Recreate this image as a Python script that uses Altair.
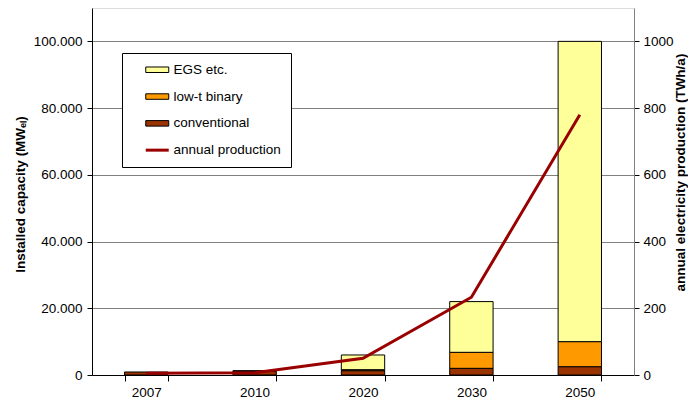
import altair as alt
import pandas as pd

years = ["2007", "2010", "2020", "2030", "2050"]
conventional = [900, 1100, 1300, 2000, 2500]
low_t_binary = [0, 200, 300, 4800, 7500]
egs = [0, 0, 4400, 15200, 90000]
production = [5, 7, 50, 233, 780]

series_names = ["EGS etc.", "low-t binary", "conventional", "annual production"]
series_colors = ["#FFFF99", "#FF9900", "#993300", "#990000"]
left_ticks = [0, 20000, 40000, 60000, 80000, 100000]
right_ticks = [0, 200, 400, 600, 800, 1000]

rows = []
for i, yr in enumerate(years):
    for name, vals, o in [("conventional", conventional, 0),
                          ("low-t binary", low_t_binary, 1),
                          ("EGS etc.", egs, 2)]:
        if vals[i] > 0:
            rows.append({"year": yr, "type": name, "cap": vals[i], "ord": o})
bars_df = pd.DataFrame(rows)
line_df = pd.DataFrame({"year": years, "prod": production})

FONT = "Liberation Sans"
FS = 13.5

x_enc = alt.X(
    "year:N", sort=years, title=None,
    scale=alt.Scale(paddingInner=0.6, paddingOuter=0.3),
    axis=alt.Axis(labelAngle=0, labelFontSize=FS, labelFont=FONT, labelColor="black",
                  tickBand="extent", tickSize=6, tickColor="black", domainColor="black",
                  labelPadding=4, grid=False),
)

is_line = "datum.value == 'annual production'"

bars = alt.Chart(bars_df).mark_bar(
    stroke={"expr": is_line + " ? '#990000' : 'black'"},
    strokeWidth={"expr": is_line + " ? 3 : 1"},
).encode(
    x=x_enc,
    y=alt.Y("cap:Q", stack="zero",
            scale=alt.Scale(domain=[0, 110000], nice=False),
            axis=alt.Axis(values=left_ticks,
                          labelExpr="datum.value == 0 ? '0' : format(datum.value / 1000, 'd') + '.000'",
                          title="Installed capacity (MWₑₗ)",
                          titleFont=FONT, titleFontSize=FS, titleFontWeight="bold", titleColor="black",
                          titleAngle=270, titleX=-68, titleY=186, titleAlign="center",
                          titleBaseline="alphabetic",
                          labelFont=FONT, labelFontSize=FS, labelColor="black",
                          tickSize=5, tickColor="black", labelPadding=5,
                          domainColor="black", grid=True, gridColor="#808080", gridWidth=1)),
    color=alt.Color("type:N",
                    scale=alt.Scale(domain=series_names, range=series_colors),
                    legend=alt.Legend(
                        title=None, orient="none", legendX=30, legendY=45,
                        symbolType={"expr": is_line + " ? 'M-1,0H1' : 'M-1,-0.24H1V0.24H-1Z'"},
                        symbolSize=529,
                        symbolStrokeWidth={"expr": is_line + " ? 3 : 1"},
                        symbolOffset=18.5, labelOffset=9.4,
                        labelFont=FONT, labelFontSize=FS, labelColor="black",
                        rowPadding=11.8, padding=10,
                        strokeColor="black", fillColor="white")),
    order=alt.Order("ord:Q"),
)

line = alt.Chart(line_df).mark_line(color="#990000", strokeWidth=3).encode(
    x=x_enc,
    y=alt.Y("prod:Q",
            scale=alt.Scale(domain=[0, 1100], nice=False),
            axis=alt.Axis(orient="right", values=right_ticks, format="d",
                          title="annual electricity production (TWh/a)",
                          titleFont=FONT, titleFontSize=FS, titleFontWeight="bold", titleColor="black",
                          titleAngle=270, titleX=50, titleY=164, titleAlign="center",
                          titleBaseline="alphabetic",
                          labelFont=FONT, labelFontSize=FS, labelColor="black",
                          tickSize=5, tickColor="black", labelPadding=4,
                          domainColor="#808080", grid=False)),
)

chart = alt.layer(bars, line).resolve_scale(y="independent").properties(
    width=542, height=367,
    padding={"left": 84, "top": 0, "right": 54, "bottom": 24},
    autosize=alt.AutoSizeParams(type="none"),
).configure_view(stroke=None).configure(font=FONT)

chart.save("out.html", embed_options={"renderer": "svg", "actions": False})
